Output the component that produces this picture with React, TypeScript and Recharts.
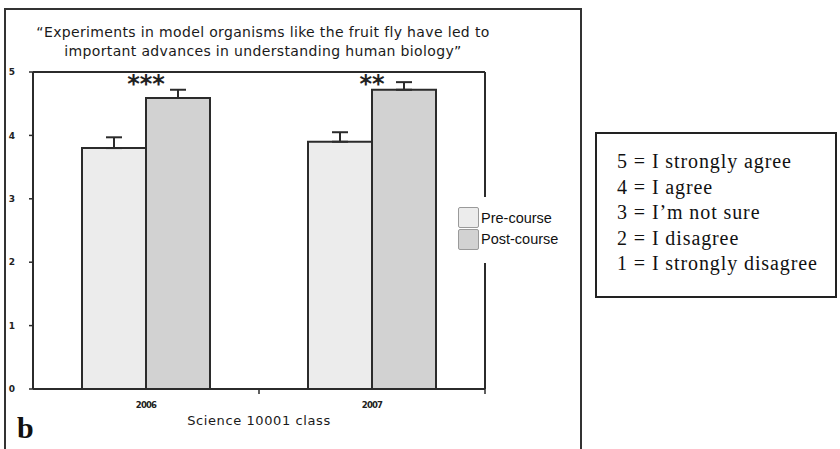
import React from "react";
import {
  BarChart, Bar, XAxis, YAxis, ErrorBar, Legend, ReferenceDot, Label,
} from "recharts";

const years = ["2006", "2007"];
const seriesNames = ["Pre-course", "Post-course"];
const preCourse = [3.8, 3.9];
const postCourse = [4.59, 4.72];
const preErr = [0.17, 0.15];
const postErr = [0.13, 0.12];
const stars = ["***", "**"];
const yTicks = [0, 1, 2, 3, 4, 5];
const titleLines = [
  "\u201CExperiments in model organisms like the fruit fly have led to",
  "important advances in understanding human biology\u201D",
];
const scaleLines = [
  "5 = I strongly agree",
  "4 = I agree",
  "3 = I\u2019m not sure",
  "2 = I disagree",
  "1 = I strongly disagree",
];

const data = years.map((year, i) => ({
  year,
  pre: preCourse[i],
  post: postCourse[i],
  preErr: [0, preErr[i]],
  postErr: [0, postErr[i]],
}));

const AXIS = "#2b2b2b";
const SANS = "'DejaVu Sans', Verdana, sans-serif";

function YearTick(props: any) {
  const { x, y, payload } = props;
  const edge = x + (payload.offset ?? 0);
  return (
    <g>
      <line x1={edge} x2={edge} y1={y - 5} y2={y} stroke={AXIS} strokeWidth={1.5} />
      <text x={x} y={y + 14} textAnchor="middle" fontFamily={SANS} fontSize={8.5}
        fontWeight="bold" letterSpacing={-0.8} fill="#222">
        {payload.value}
      </text>
    </g>
  );
}

function LegendBox(props: any) {
  const items = [...(props.payload ?? [])].sort(
    (a: any, b: any) => seriesNames.indexOf(a.value) - seriesNames.indexOf(b.value),
  );
  return (
    <div style={{ paddingTop: 10, paddingLeft: 3 }}>
      {items.map((item: any) => (
        <div key={item.value} style={{ display: "flex", alignItems: "center", height: 21.5 }}>
          <div style={{
            width: 21, height: 21, background: item.color, borderRadius: 2,
            border: "1.5px solid #9a9a9a", boxSizing: "border-box", marginRight: 2,
          }} />
          <span style={{ fontFamily: "'Liberation Sans', Arial, sans-serif", fontSize: 14.5, color: "#111" }}>
            {item.value}
          </span>
        </div>
      ))}
    </div>
  );
}

export default function App() {
  return (
    <div style={{ position: "absolute", left: 0, top: 0, width: 840, height: 449, overflow: "hidden", background: "#fff" }}>
      <div style={{
        position: "absolute", left: 4, top: 8, width: 578, height: 470,
        border: "2px solid #333", boxSizing: "border-box",
      }} />
      <div style={{
        position: "absolute", left: 0, top: 23, width: 526, textAlign: "center",
        fontFamily: SANS, fontSize: 14, letterSpacing: 0.35, lineHeight: "19px", color: "#1a1a1a",
      }}>
        {titleLines.map((t) => <div key={t}>{t}</div>)}
      </div>
      <div style={{ position: "absolute", left: 0, top: 0 }}>
        <BarChart width={590} height={449} data={data} barSize={64} barGap={0}
          margin={{ top: 71, right: 104, bottom: 20, left: 0 }}>
          <XAxis dataKey="year" height={40} axisLine={{ stroke: AXIS, strokeWidth: 2 }}
            tickLine={false} tickSize={5} tickMargin={0} tick={<YearTick />} interval={0}>
            <Label value="Science 10001 class" position="insideBottom" offset={4}
              style={{ fontFamily: SANS, fontSize: 13, letterSpacing: 0.6, fill: "#1a1a1a" }} />
          </XAxis>
          <XAxis xAxisId="top" dataKey="year" orientation="top" height={1} tick={false}
            tickLine={false} axisLine={{ stroke: AXIS, strokeWidth: 2 }} />
          <YAxis domain={[0, 5]} ticks={yTicks} width={33} tickSize={4} tickMargin={14}
            axisLine={{ stroke: AXIS, strokeWidth: 2 }} tickLine={{ stroke: AXIS, strokeWidth: 1.5 }}
            tick={{ fontFamily: SANS, fontSize: 9, fontWeight: "bold", fill: "#222" }} />
          <YAxis yAxisId="right" orientation="right" domain={[0, 5]} width={1} tick={false}
            tickLine={false} axisLine={{ stroke: AXIS, strokeWidth: 2 }} />
          <Bar dataKey="pre" name={seriesNames[0]} fill="#ececec" stroke={AXIS} strokeWidth={2}
            isAnimationActive={false}>
            <ErrorBar dataKey="preErr" width={8} stroke={AXIS} strokeWidth={2} />
          </Bar>
          <Bar dataKey="post" name={seriesNames[1]} fill="#d2d2d2" stroke={AXIS} strokeWidth={2}
            isAnimationActive={false}>
            <ErrorBar dataKey="postErr" width={8} stroke={AXIS} strokeWidth={2} />
          </Bar>
          {years.map((year, i) => (
            <ReferenceDot key={year} x={year} y={5} r={0} stroke="none" fill="none"
              label={(p: any) => (
                <text x={p.viewBox.cx ?? p.viewBox.x} y={(p.viewBox.cy ?? p.viewBox.y) + 20}
                  textAnchor="middle" fontFamily={SANS} fontSize={24} fontWeight="bold" fill="#222">
                  {stars[i]}
                </text>
              )} />
          ))}
          <Legend layout="horizontal" verticalAlign="middle" align="center" content={<LegendBox />}
            wrapperStyle={{ left: 455, top: 197, width: 114, height: 66, background: "#fff" }} />
        </BarChart>
      </div>
      <div style={{
        position: "absolute", left: 17, top: 413, fontFamily: "'Liberation Serif', serif",
        fontSize: 30, fontWeight: "bold", color: "#111", lineHeight: "30px",
      }}>b</div>
      <div style={{
        position: "absolute", left: 595, top: 132, width: 242, height: 166,
        border: "2px solid #222", boxSizing: "border-box", paddingLeft: 20, paddingTop: 15,
        fontFamily: "'Liberation Serif', 'Times New Roman', serif", fontSize: 20, letterSpacing: 0.9,
        lineHeight: "25.5px", color: "#111",
      }}>
        {scaleLines.map((t) => <div key={t} style={{ whiteSpace: "nowrap" }}>{t}</div>)}
      </div>
    </div>
  );
}
